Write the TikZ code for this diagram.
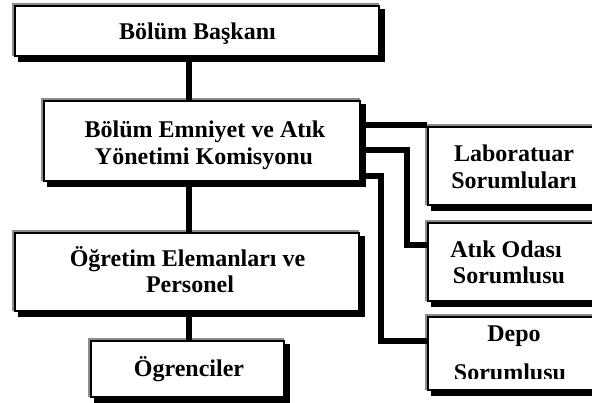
\documentclass[tikz,border=0pt]{standalone}
\usepackage{fontspec}
\setmainfont{Liberation Serif}
\usetikzlibrary{shadows}
\tikzset{
  box/.style={rectangle, draw=black, line width=2.7pt, fill=white, inner sep=0pt,
    general shadow={shadow xshift=-1.8pt, shadow yshift=1.8pt, fill=black!45, draw=black!45, line width=2.7pt},
    general shadow={shadow xshift=4.5pt, shadow yshift=-4.5pt, fill=black, draw=black, line width=2.7pt}},
  conn/.style={draw=black, line width=5.5pt, line join=miter, line cap=butt},
  lbl/.style={anchor=base, inner sep=0pt, font=\fontsize{24}{28}\selectfont\bfseries}
}
\begin{document}
\begin{tikzpicture}[x=1pt,y=-1pt]
\useasboundingbox (0,0) rectangle (592,403);
\clip (0,0) rectangle (592,403);
% boxes
\node[box, minimum width=364pt, minimum height=50pt] (bb) at (197,31) {};
\node[box, minimum width=316pt, minimum height=80pt] (kom) at (202,141) {};
\node[box, minimum width=344pt, minimum height=78pt] (ogr) at (187,272) {};
\node[box, minimum width=193pt, minimum height=56pt] (ogrc) at (187.5,369) {};
\node[box, minimum width=212pt, minimum height=78pt] (lab) at (534,166) {};
\node[box, minimum width=212pt, minimum height=78pt] (atik) at (534,262) {};
\node[box, minimum width=212pt, minimum height=73pt] (depo) at (534,353.5) {};
% helper coordinates
\coordinate (vx) at (189,0);
\coordinate (y1) at (0,125);
\coordinate (j2a) at (407,150);
\coordinate (j2b) at (407,245);
\coordinate (j3a) at (381,176);
\coordinate (j3b) at (381,341);
% connectors
\draw[conn] (bb.south -| vx) -- (kom.north -| vx);
\draw[conn] (kom.south -| vx) -- (ogr.north -| vx);
\draw[conn] (ogr.south -| vx) -- (ogrc.north -| vx);
\draw[conn] (kom.east |- y1) -- (lab.west |- y1);
\draw[conn] (kom.east |- j2a) -- (j2a) -- (j2b) -- (atik.west |- j2b);
\draw[conn] (kom.east |- j3a) -- (j3a) -- (j3b) -- (depo.west |- j3b);
% labels
\node[lbl] (t1) at (197.5,40) {Bölüm Başkanı};
\node[lbl] (t2a) at (205,138) {Bölüm Emniyet ve Atık};
\node[lbl] (t2b) at (204,165) {Yönetimi Komisyonu};
\node[lbl] (t3a) at (187.5,267) {Öğretim Elemanları ve};
\node[lbl] (t3b) at (190,293) {Personel};
\node[lbl] (t4) at (189,377) {Ögrenciler};
\node[lbl] (t5a) at (514,162) {Laboratuar};
\node[lbl] (t5b) at (514,189) {Sorumluları};
\node[lbl] (t6a) at (506,258) {Atık Odası};
\node[lbl] (t6b) at (509,284) {Sorumlusu};
\node[lbl] (t7a) at (514,342) {Depo};
\begin{scope}
\clip (428,317) rectangle (640,379);
\node[lbl] (t7b) at (510,381) {Sorumlusu};
\end{scope}
\end{tikzpicture}
\end{document}
